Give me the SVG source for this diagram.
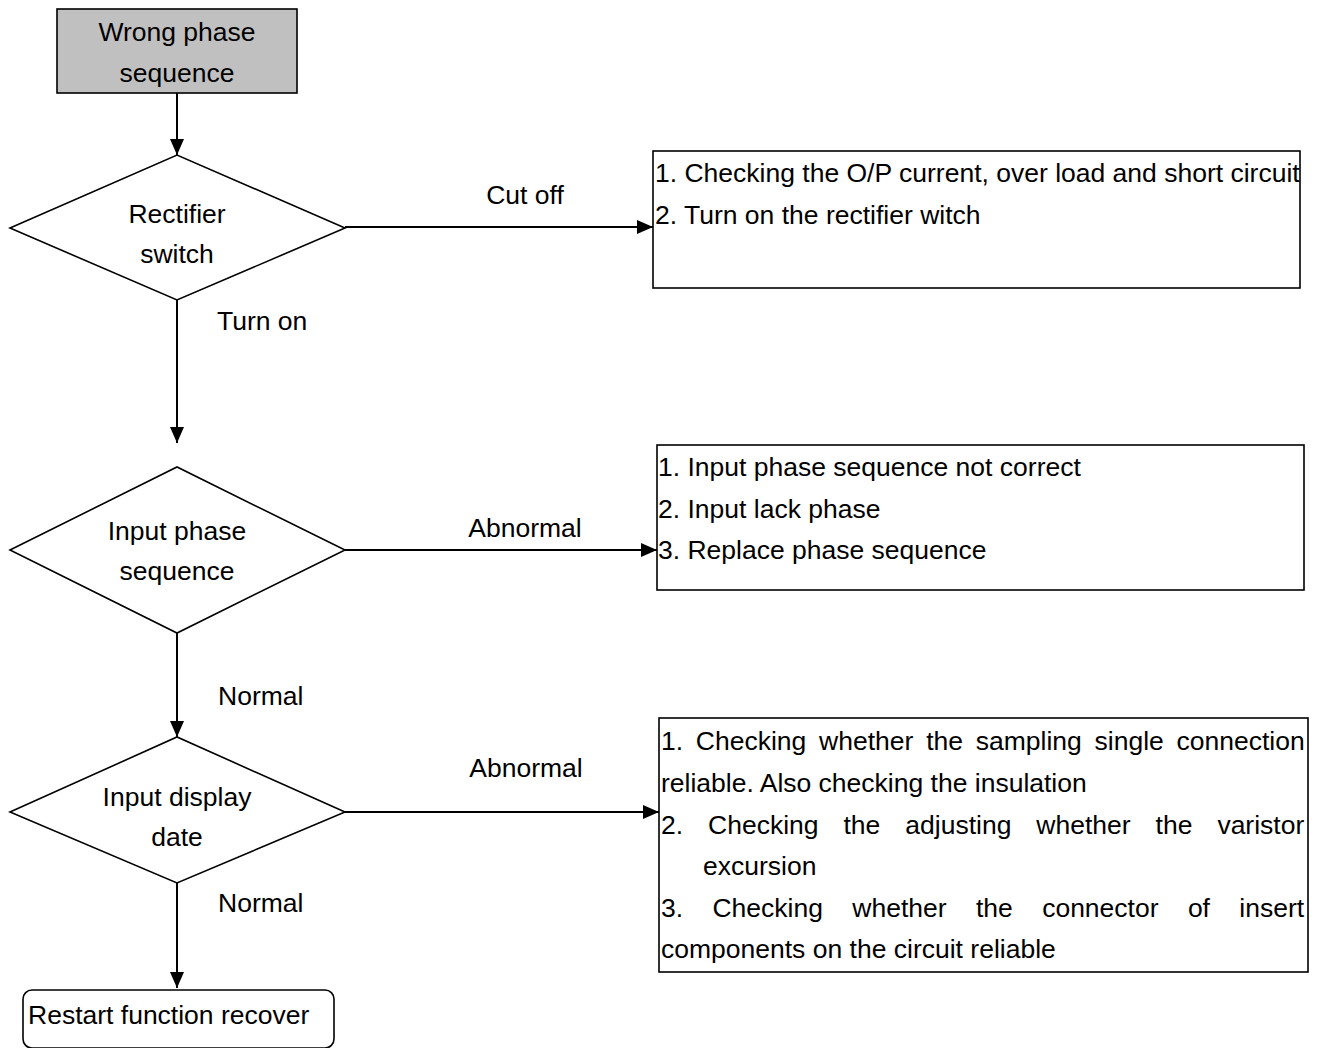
<svg xmlns="http://www.w3.org/2000/svg" width="1322" height="1048" viewBox="0 0 1322 1048">
<style>
text{font-family:"Liberation Sans",Arial,sans-serif;font-size:26.5px;fill:#000}
.c{text-anchor:middle}
.shape{fill:#fff;stroke:#000;stroke-width:1.6}
.conn line{stroke:#000;stroke-width:2}
</style>
<defs>
<marker id="ah" viewBox="0 0 16 14" refX="16" refY="7" markerWidth="16" markerHeight="14" markerUnits="userSpaceOnUse" orient="auto">
<path d="M0,0 L16,7 L0,14 Z" fill="#000"/>
</marker>
</defs>
<rect width="1322" height="1048" fill="#fff"/>
<g id="connectors" class="conn">
<line x1="177" y1="93" x2="177" y2="155" marker-end="url(#ah)"/>
<line x1="345" y1="227" x2="653" y2="227" marker-end="url(#ah)"/>
<line x1="177" y1="300" x2="177" y2="443" marker-end="url(#ah)"/>
<line x1="345" y1="550" x2="657" y2="550" marker-end="url(#ah)"/>
<line x1="177" y1="633" x2="177" y2="737" marker-end="url(#ah)"/>
<line x1="345" y1="812" x2="659" y2="812" marker-end="url(#ah)"/>
<line x1="177" y1="883" x2="177" y2="988" marker-end="url(#ah)"/>
<text class="c" x="525" y="204">Cut off</text>
<text x="217" y="330">Turn on</text>
<text class="c" x="525" y="537">Abnormal</text>
<text x="218" y="705">Normal</text>
<text class="c" x="526" y="777">Abnormal</text>
<text x="218" y="912">Normal</text>
</g>
<g id="start">
<rect x="57" y="9" width="240" height="84" fill="#c0c0c0" stroke="#000" stroke-width="1.6"/>
<text class="c" x="177" y="41">Wrong phase</text>
<text class="c" x="177" y="82">sequence</text>
</g>
<g id="rectifier-switch">
<polygon class="shape" points="10,228 177,155 345,228 177,300"/>
<text class="c" x="177" y="223">Rectifier</text>
<text class="c" x="177" y="263">switch</text>
</g>
<g id="cutoff-actions">
<rect class="shape" x="653" y="151" width="647" height="137"/>
<text x="655" y="182">1. Checking the O/P current, over load and short circuit</text>
<text x="655" y="224">2. Turn on the rectifier witch</text>
</g>
<g id="input-phase-sequence">
<polygon class="shape" points="10,550 177,467 345,550 177,633"/>
<text class="c" x="177" y="540">Input phase</text>
<text class="c" x="177" y="580">sequence</text>
</g>
<g id="phase-actions">
<rect class="shape" x="657" y="445" width="647" height="145"/>
<text x="658" y="476">1. Input phase sequence not correct</text>
<text x="658" y="518">2. Input lack phase</text>
<text x="658" y="559">3. Replace phase sequence</text>
</g>
<g id="input-display-date">
<polygon class="shape" points="10,812 177,737 345,812 177,883"/>
<text class="c" x="177" y="806">Input display</text>
<text class="c" x="177" y="846">date</text>
</g>
<g id="display-actions">
<rect class="shape" x="659" y="718" width="649" height="254"/>
<text x="661" y="750" word-spacing="5.4">1. Checking whether the sampling single connection</text>
<text x="661" y="792">reliable. Also checking the insulation</text>
<text x="661" y="834" word-spacing="17.6">2. Checking the adjusting whether the varistor</text>
<text x="703" y="875">excursion</text>
<text x="661" y="917" word-spacing="22">3. Checking whether the connector of insert</text>
<text x="661" y="958">components on the circuit reliable</text>
</g>
<g id="restart">
<rect class="shape" x="23" y="990" width="311" height="58" rx="9"/>
<text x="28" y="1024">Restart function recover</text>
</g>
</svg>
